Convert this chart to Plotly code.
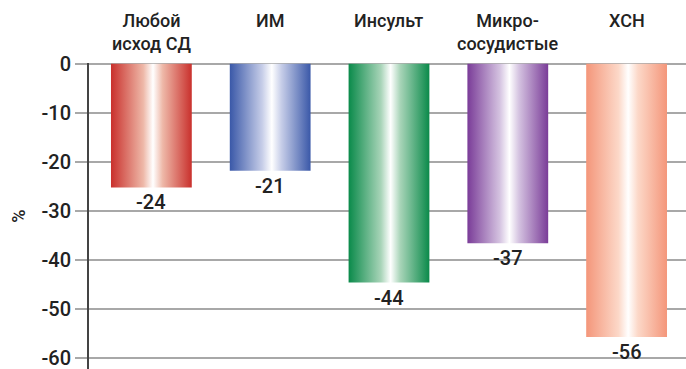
import plotly.graph_objects as go

categories = ["Любой<br>исход СД", "ИМ", "Инсульт", "Микро-<br>сосудистые", "ХСН"]
bar_values = [-25.2, -21.8, -44.6, -36.6, -55.7]
value_labels = ["-24", "-21", "-44", "-37", "-56"]
dark_colors = ["#c9302c", "#3a58a8", "#0a8a4a", "#7a3c98", "#f4967a"]
light_colors = ["#eeb8a8", "#c6cde8", "#a8d4b8", "#d4c2e0", "#fcd8c8"]
y_ticks = [0, -10, -20, -30, -40, -50, -60]

FONT = "Roboto"
TXT = "#222222"
BAR_W = 0.68

fig = go.Figure()
for i, (v, dc, lc) in enumerate(zip(bar_values, dark_colors, light_colors)):
    x0, x1 = i - BAR_W / 2, i + BAR_W / 2
    fig.add_trace(go.Scatter(
        x=[x0, x1, x1, x0, x0], y=[0, 0, v, v, 0],
        mode="lines", line=dict(width=0), fill="toself",
        fillgradient=dict(type="horizontal",
                          colorscale=[[0, dc], [0.4, lc], [0.52, "#ffffff"], [0.64, lc], [1, dc]]),
        hoverinfo="skip", showlegend=False,
    ))
    fig.add_annotation(x=i, y=v, yref="y", xref="x", text=value_labels[i],
                       showarrow=False, yanchor="top", yshift=-1,
                       font=dict(family=FONT, size=20, color=TXT, weight=500))
    fig.add_annotation(x=i, y=1.18, xref="x", yref="paper", text=categories[i],
                       showarrow=False, yanchor="top",
                       font=dict(family=FONT, size=18, color=TXT, weight=500))

fig.update_layout(
    width=686, height=369,
    margin=dict(l=89, r=0, t=63, b=0),
    paper_bgcolor="white", plot_bgcolor="white",
    font=dict(family=FONT, size=19, color=TXT),
    showlegend=False,
)
fig.update_xaxes(range=[-0.525, 4.5], showgrid=False, zeroline=False,
                 showticklabels=False, ticks="", showline=False)
fig.update_yaxes(range=[-62.2, 0.15], tickvals=y_ticks, ticktext=[str(t) for t in y_ticks],
                 showgrid=True, gridcolor="#a8a8a8", gridwidth=2,
                 zeroline=True, zerolinecolor="#a8a8a8", zerolinewidth=2,
                 ticks="outside", ticklen=12, tickwidth=2, tickcolor="#a8a8a8",
                 showline=True, linecolor="#444444", linewidth=2,
                 ticklabeloverflow="allow",
                 tickfont=dict(family=FONT, size=20, color=TXT, weight=500),
                 title=dict(text="%", font=dict(family=FONT, size=18, color=TXT, weight=500), standoff=11))

fig.write_html("out.html")
